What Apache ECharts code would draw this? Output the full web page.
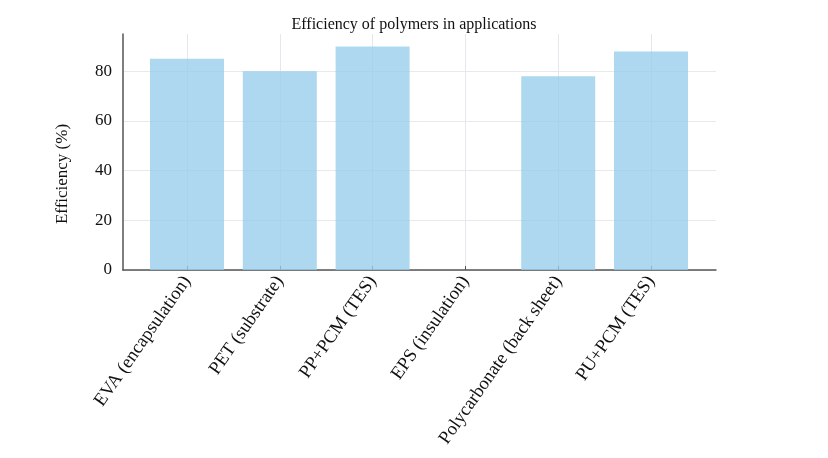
<!DOCTYPE html>
<html><head><meta charset="utf-8">
<script src="https://cdn.jsdelivr.net/npm/echarts@6/dist/echarts.min.js"></script>
<style>html,body{margin:0;padding:0;background:#fff}#c{width:828px;height:458px}</style>
</head><body><div id="c"></div>
<script>
const categories = ['EVA (encapsulation)', 'PET (substrate)', 'PP+PCM (TES)', 'EPS (insulation)', 'Polycarbonate (back sheet)', 'PU+PCM (TES)'];
const efficiency = [85, 80, 90, null, 78, 88];
const yTicks = [0, 20, 40, 60, 80];
const yName = 'Efficiency (%)';

const font = 'Liberation Serif, Times New Roman, serif';
const chart = echarts.init(document.getElementById('c'), null, {renderer: 'canvas'});
chart.setOption({
  backgroundColor: '#fff',
  animation: false,
  title: {text: 'Efficiency of polymers in applications', left: 'center', top: 12,
    textStyle: {fontFamily: font, fontSize: 16, fontWeight: 'normal', color: '#111'}},
  graphic: [{type: 'text', x: 63, y: 174, rotation: Math.PI / 2,
    style: {text: yName, font: '17px ' + font, fill: '#111', align: 'center', verticalAlign: 'middle'}}],
  grid: [
    {left: 123, right: 112, top: 34, bottom: 188},
    {left: 187, right: 177, top: 34, bottom: 188}
  ],
  xAxis: [
    {gridIndex: 0, type: 'value', min: 0, max: 1, axisLine: {show: true, onZero: false, lineStyle: {color: '#555', width: 1.5}},
     axisTick: {show: false}, axisLabel: {show: false}, splitLine: {show: false}},
    {gridIndex: 1, type: 'category', data: categories, boundaryGap: false,
     axisLine: {show: false}, axisTick: {show: true, inside: true, length: 4, lineStyle: {color: '#555'}},
     axisLabel: {rotate: 55, fontFamily: font, fontSize: 18.5, color: '#111', margin: 8, interval: 0},
     splitLine: {show: true, lineStyle: {color: '#e6e6ee', width: 1}}}
  ],
  yAxis: [
    {gridIndex: 0, type: 'value', min: 0, max: 95, interval: 20,
     axisLine: {show: true, lineStyle: {color: '#555', width: 1.5}}, axisTick: {show: false},
     axisLabel: {fontFamily: font, fontSize: 17, color: '#111', margin: 11, showMaxLabel: false,
       formatter: v => yTicks.includes(v) ? String(v) : ''},
     splitLine: {show: true, showMaxLine: false, lineStyle: {color: '#e8e8ee', width: 1}}},
    {gridIndex: 1, type: 'value', min: 0, max: 95, interval: 20, show: false, splitLine: {show: false}}
  ],
  series: [{
    type: 'bar', xAxisIndex: 1, yAxisIndex: 1, data: efficiency, barWidth: 74, clip: false,
    itemStyle: {color: 'rgba(150,205,235,0.78)'}
  }]
});
</script></body></html>
